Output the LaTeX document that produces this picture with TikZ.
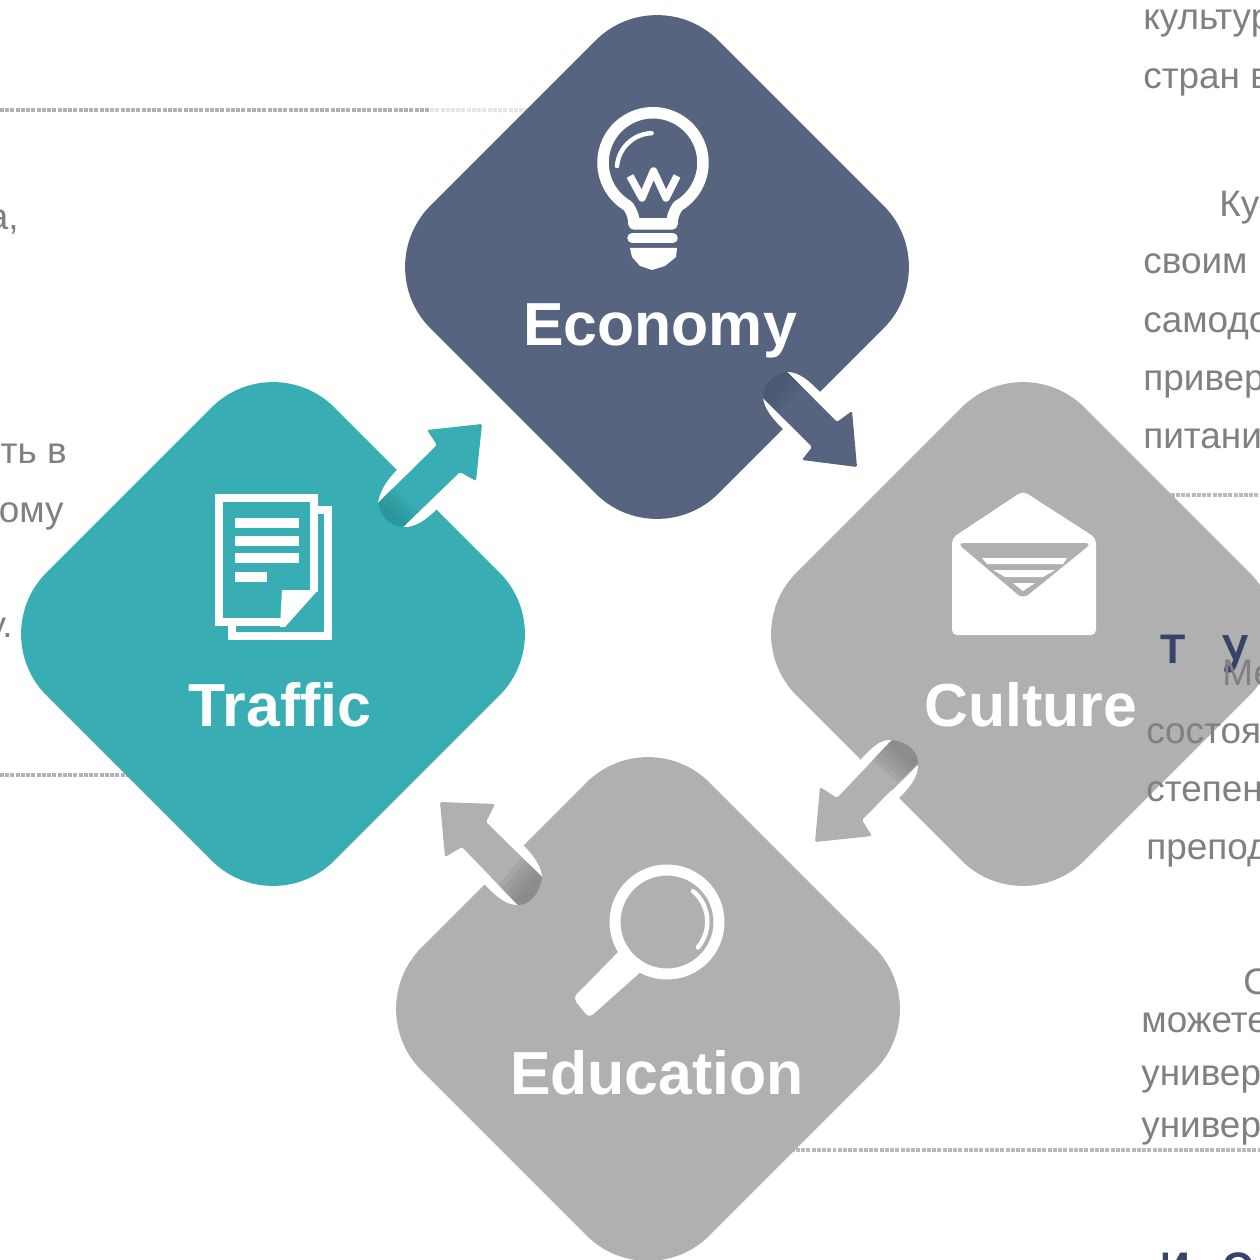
\documentclass[tikz,border=0pt]{standalone}
\usepackage{fontspec}
\setmainfont{Liberation Sans}
\usetikzlibrary{shapes.geometric}
\definecolor{ecoC}{HTML}{56647F}
\definecolor{ecoD}{HTML}{3F4C66}
\definecolor{trafC}{HTML}{38ADB3}
\definecolor{trafD}{HTML}{1F7F85}
\definecolor{greyC}{HTML}{B0B0B0}
\definecolor{greyD}{HTML}{6E6E6E}
\definecolor{txtC}{HTML}{808080}
\definecolor{navyC}{HTML}{37446A}
\tikzset{
  tile/.style={diamond,aspect=1,minimum width=11.52cm,minimum height=11.52cm,inner sep=0pt,outer sep=0pt,rounded corners=1.74cm,fill=#1},
  tilelabel/.style={anchor=base,text=white,font=\bfseries\fontsize{34.6}{40}\selectfont,inner sep=0pt},
  bodytext/.style={anchor=base west,text=txtC,font=\fontsize{21}{25}\selectfont,inner sep=0pt},
  bodyend/.style={anchor=base east,text=txtC,font=\fontsize{21}{25}\selectfont,inner sep=0pt},
  headtext/.style={anchor=base west,text=navyC,font=\bfseries\fontsize{23.5}{27}\selectfont,inner sep=0pt},
  rule/.style={line width=0.065cm,draw=#1,dash pattern=on 0.08cm off 0.025cm},
  icon/.style={draw=white,line width=#1,line join=round,line cap=round},
  solidicon/.style={fill=white,rounded corners=0.1cm},
  notch/.style={fill=white},
  blockarrow/.style={fill=#1,rounded corners=0.03cm},
  band/.style={fill=#1,fill opacity=0.14}
}
\begin{document}
\begin{tikzpicture}[x=0.02cm,y=0.02cm]
\useasboundingbox (0,0) rectangle (1260,-1260);
\clip (0,0) rectangle (1260,-1260);
\fill[white] (0,0) rectangle (1260,-1260);
% dotted rules
\coordinate (ra) at (0,-110); \coordinate (rb) at (430,-110); \coordinate (rc) at (530,-110);
\draw[rule=black!30] (ra) -- (rb);
\draw[rule=black!10] (rb) -- (rc);
\coordinate (rd) at (0,-775); \coordinate (re) at (135,-775);
\draw[rule=black!30] (rd) -- (re);
\coordinate (rf) at (780,-1150); \coordinate (rg) at (1260,-1150);
\draw[rule=black!27] (rf) -- (rg);
\coordinate (rh) at (1160,-495); \coordinate (ri) at (1260,-495);
\draw[rule=black!27] (rh) -- (ri);
% tiles
\node[tile=ecoC] (economy) at (657,-267) {};
\node[tile=trafC] (traffic) at (273,-634) {};
\node[tile=greyC] (culture) at (1023,-634) {};
\node[tile=greyC] (education) at (648,-1009) {};
% notches
\fill[notch] (378,-503) .. controls (380,-490) and (388,-479) .. (397,-470) -- (437,-445) -- cycle;
\fill[notch] (403,-527) .. controls (415,-528) and (427,-519) .. (437,-509) -- (460,-472) -- cycle;
\fill[notch] (787,-372) .. controls (800,-372) and (810,-382) .. (820,-392) -- (837,-422) -- cycle;
\fill[notch] (763,-398) .. controls (765,-410) and (773,-419) .. (783,-429) -- (812,-447) -- cycle;
\fill[notch] (892,-740) .. controls (880,-739) and (872,-748) .. (862,-758) -- (837,-798) -- cycle;
\fill[notch] (918,-765) .. controls (918,-778) and (909,-788) .. (899,-798) -- (862,-820) -- cycle;
\fill[notch] (542,-877) .. controls (541,-865) and (533,-855) .. (523,-845) -- (486,-822) -- cycle;
\fill[notch] (518,-905) .. controls (505,-905) and (495,-895) .. (485,-885) -- (462,-847) -- cycle;
% block arrows
\fill[blockarrow=trafC] (482,-424) -- (427,-430) -- (437,-445) -- (378,-503) .. controls (380,-515) and (390,-527) .. (403,-527) -- (460,-472) -- (476,-481) -- cycle;
\foreach \d in {3,7,11,15} {\fill[band=trafD] (378,-503) .. controls (380,-515) and (390,-527) .. (403,-527) -- ({403+\d},{-527+\d}) -- ({378+\d},{-503+\d}) -- cycle;}
\fill[blockarrow=ecoC] (857,-467) -- (852,-411) -- (837,-422) -- (787,-372) .. controls (772,-375) and (763,-385) .. (763,-398) -- (812,-447) -- (802,-460) -- cycle;
\foreach \d in {3,7,11,15} {\fill[band=ecoD] (787,-372) .. controls (772,-375) and (763,-385) .. (763,-398) -- ({763+\d},{-398-\d}) -- ({787+\d},{-372-\d}) -- cycle;}
\fill[blockarrow=greyC] (815,-842) -- (820,-787) -- (837,-798) -- (892,-740) .. controls (908,-742) and (918,-752) .. (918,-763) -- (862,-820) -- (872,-836) -- cycle;
\foreach \d in {4,8,12,16,20} {\fill[band=greyD] (892,-740) .. controls (908,-742) and (918,-752) .. (918,-763) -- ({918-\d},{-763-\d}) -- ({892-\d},{-740-\d}) -- cycle;}
\fill[blockarrow=greyC] (440,-802) -- (495,-804) -- (486,-822) -- (542,-877) .. controls (540,-893) and (530,-905) .. (518,-905) -- (462,-847) -- (445,-857) -- cycle;
\foreach \d in {4,8,12,16,20} {\fill[band=greyD] (542,-877) .. controls (540,-893) and (530,-905) .. (518,-905) -- ({518-\d},{-905+\d}) -- ({542-\d},{-877+\d}) -- cycle;}
% bulb
\draw[icon=0.23cm] (628,-206) arc[start angle=240,end angle=-60,radius=1cm] .. controls (674,-212) and (672,-217) .. (672,-224) -- (634,-224) .. controls (634,-217) and (632,-212) .. cycle;
\draw[icon=0.19cm] (632,-238) -- (673,-238);
\fill[white] (630,-248) -- (677,-248) -- (676,-257) -- (665,-266) -- (652,-270) -- (640,-266) -- (632,-257) -- cycle;
\draw[icon=0.09cm] (617,-166) arc[start angle=175,end angle=92,radius=0.72cm];
\draw[draw=white,line width=0.15cm,line join=round,line cap=butt] (630,-176) -- (642,-198) -- (653.5,-171) -- (666,-198) -- (677,-176);
% document
\draw[draw=white,line width=0.15cm] (316,-510) -- (328,-510) -- (328,-636) -- (232,-636) -- (232,-626);
\draw[draw=white,line width=0.15cm,line join=miter] (285,-622) -- (219,-622) -- (219,-498) -- (314,-498) -- (314,-592);
\fill[white] (282,-590) -- (318,-590) -- (285,-627) -- (280,-627) -- cycle;
\foreach \yy in {523,541,558} {\fill[white] (235,-\yy+5) rectangle (299,-\yy-5);}
\fill[white] (235,-572) rectangle (267,-582);
% envelope
\fill[solidicon] (952,-538) -- (1023,-491) -- (1096,-538) -- (1096,-635) -- (952,-635) -- cycle;
\fill[greyC,rounded corners=0.14cm] (957,-543) -- (1092,-543) -- (1023,-599) -- cycle;
\fill[white] (982,-558) -- (1067,-558) -- (1063,-564) -- (987,-564) -- cycle;
\fill[white] (993,-570) -- (1055,-570) -- (1043,-577) -- (1005,-577) -- cycle;
\fill[white] (1013,-583) -- (1035,-583) -- (1023,-591) -- cycle;
% magnifier
\fill[solidicon] (625,-945) -- (645,-968) -- (589,-1018) -- (573,-998) -- cycle;
\fill[greyC] (667,-922) circle[radius=0.94cm];
\draw[draw=white,line width=0.22cm] (667,-922) circle[radius=1.04cm];
\draw[icon=0.09cm] (693,-891) arc[start angle=50,end angle=-40,radius=0.8cm];
% labels
\node[tilelabel] (economyl) at (660,-345) {Economy};
\node[tilelabel] (trafficl) at (280,-726) {Traffic};
\node[tilelabel] (culturel) at (1031,-726) {Culture};
\node[tilelabel] (educationl) at (657,-1094) {Education};
% right column
\node[bodytext] (t1) at (1143,-30) {культур};
\node[bodytext] (t2) at (1143,-89) {стран в};
\node[bodytext] (t3) at (1219,-217) {Ку};
\node[bodytext] (t4) at (1143,-274) {своим};
\node[bodytext] (t5) at (1143,-333) {самодо};
\node[bodytext] (t6) at (1143,-390) {привер};
\node[bodytext] (t7) at (1143,-448) {питани};
\node[headtext] (h1) at (1160,-663) {Т};
\node[headtext] (h2) at (1222,-672) {\scalebox{1}[1.3]{У}};
\node[bodytext] (t8) at (1222,-685) {Ме};
\node[bodytext] (t9) at (1146,-743) {состоя};
\node[bodytext] (t10) at (1146,-801) {степен};
\node[bodytext] (t11) at (1146,-859) {препод};
\node[bodytext] (t12) at (1243,-994) {О};
\node[bodytext] (t13) at (1141,-1032) {можете};
\node[bodytext] (t14) at (1141,-1085) {универ};
\node[bodytext] (t15) at (1141,-1137) {универ};
\node[headtext] (h3) at (1160,-1281) {И};
\node[headtext] (h4) at (1222,-1281) {О};
% left column
\node[bodyend] (l1) at (19,-230) {а,};
\node[bodyend] (l2) at (67,-463) {ть в};
\node[bodyend] (l3) at (64,-522) {ому};
\node[bodyend] (l4) at (13,-637) {у.};
\end{tikzpicture}
\end{document}
